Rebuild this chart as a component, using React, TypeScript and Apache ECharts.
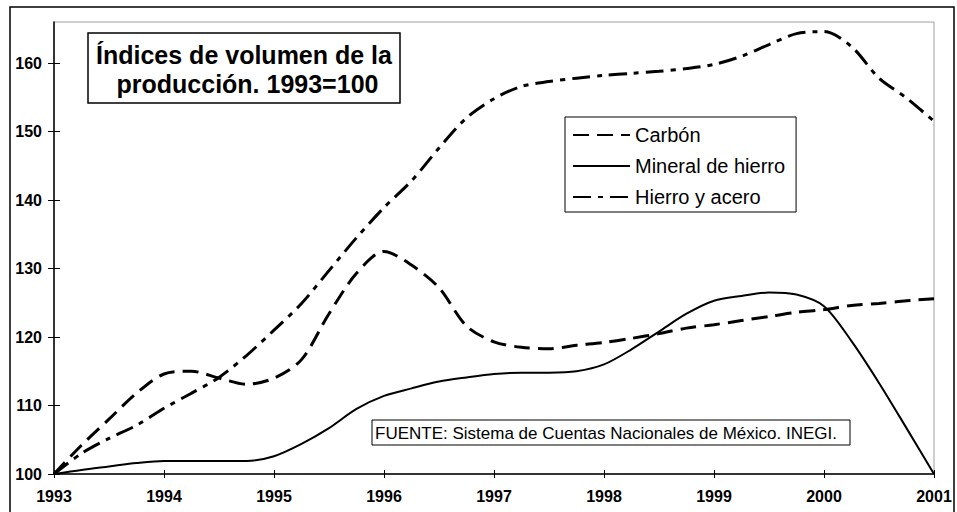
import React, { useEffect, useRef } from "react";
import * as echarts from "echarts";

const periods = [
  "1993-I", "1993-II", "1993-III", "1993-IV",
  "1994-I", "1994-II", "1994-III", "1994-IV",
  "1995-I", "1995-II", "1995-III", "1995-IV",
  "1996-I", "1996-II", "1996-III", "1996-IV",
  "1997-I", "1997-II", "1997-III", "1997-IV",
  "1998-I", "1998-II", "1998-III", "1998-IV",
  "1999-I", "1999-II", "1999-III", "1999-IV",
  "2000-I", "2000-II", "2000-III", "2000-IV",
  "2001-I",
];

const carbon = [
  100, 104.2, 108, 111.8, 114.6, 115, 114, 113.1,
  114, 116.7, 123.4, 129.3, 132.5, 130.5, 127.2, 121.6,
  119.3, 118.5, 118.3, 118.8, 119.2, 119.8, 120.5, 121.3,
  121.8, 122.4, 123, 123.6, 124, 124.6, 124.9, 125.3, 125.6,
];

const mineralHierro = [
  100, 100.6, 101.1, 101.6, 101.9, 101.9, 101.9, 101.9,
  102.6, 104.4, 106.7, 109.5, 111.4, 112.5, 113.5, 114.1,
  114.6, 114.8, 114.8, 115, 116, 118.2, 120.8, 123.4,
  125.3, 126, 126.5, 126.2, 124.5, 119.4, 113.3, 106.7, 100,
];

const hierroAcero = [
  100, 103, 105.2, 107.1, 109.6, 111.8, 114.1, 117.3,
  121, 124.9, 129.7, 134.5, 138.9, 142.8, 147.6, 152,
  154.8, 156.6, 157.3, 157.8, 158.2, 158.5, 158.8, 159.2,
  159.8, 161, 162.7, 164.3, 164.6, 162.4, 157.8, 154.9, 151.5,
];

const yTicks = [100, 110, 120, 130, 140, 150, 160];

const seriesNames = ["Carbón", "Mineral de hierro", "Hierro y acero"];
const titleLines = ["Índices de volumen de la", " producción. 1993=100"];
const sourceText = "FUENTE: Sistema de Cuentas Nacionales de México. INEGI.";

const FONT = "'Liberation Sans', Arial, Helvetica, sans-serif";

export default function App() {
  const ref = useRef<HTMLDivElement>(null);

  useEffect(() => {
    if (!ref.current) return;
    const chart = echarts.init(ref.current, null, { renderer: "svg" });
    const yearOnly = (index: number) => index % 4 === 0;

    chart.setOption({
      animation: false,
      backgroundColor: "#ffffff",
      grid: {
        left: 54,
        right: 23,
        top: 22,
        bottom: 38,
        show: true,
        borderColor: "#a0a0a0",
        borderWidth: 1,
        backgroundColor: "transparent",
      },
      legend: {
        orient: "vertical",
        left: 565,
        top: 117,
        padding: [8, 11, 5, 7],
        borderColor: "#000",
        borderWidth: 1,
        backgroundColor: "#fff",
        itemWidth: 57,
        itemHeight: 14,
        itemGap: 11,
        itemStyle: { opacity: 0 },
        textStyle: { fontSize: 20, fontFamily: FONT, color: "#000", lineHeight: 20 },
        data: seriesNames,
      },
      xAxis: [
        {
          type: "category",
          data: periods,
          boundaryGap: false,
          axisLine: { lineStyle: { color: "#000", width: 1.5 } },
          axisTick: { show: true, length: 4, interval: yearOnly, lineStyle: { color: "#000" } },
          axisLabel: {
            interval: yearOnly,
            formatter: (v: string) => v.split("-")[0],
            fontSize: 16,
            fontWeight: "bold",
            fontFamily: FONT,
            color: "#000",
            margin: 14,
          },
          splitLine: { show: false },
        },
        {
          type: "category",
          data: periods,
          boundaryGap: false,
          position: "bottom",
          axisLine: { show: false },
          axisTick: { show: true, inside: true, length: 4, interval: yearOnly, lineStyle: { color: "#000" } },
          axisLabel: { show: false },
          splitLine: { show: false },
        },
      ],
      yAxis: [
        {
          type: "value",
          min: 100,
          max: 166,
          interval: 10,
          axisLine: { show: true, lineStyle: { color: "#000", width: 1.5 } },
          axisTick: { show: true, length: 6, customValues: yTicks, lineStyle: { color: "#000" } },
          axisLabel: {
            customValues: yTicks,
            fontSize: 16,
            fontWeight: "bold",
            fontFamily: FONT,
            color: "#000",
            margin: 12,
          },
          splitLine: { show: false },
        },
        {
          type: "value",
          min: 100,
          max: 166,
          interval: 10,
          position: "left",
          axisLine: { show: false },
          axisTick: { show: true, inside: true, length: 6, customValues: yTicks, lineStyle: { color: "#000" } },
          axisLabel: { show: false },
          splitLine: { show: false },
        },
      ],
      series: [
        {
          name: seriesNames[0],
          type: "line",
          data: carbon,
          smooth: 0.3,
          symbol: "none",
          lineStyle: { color: "#000", width: 3, type: [16, 8] },
          itemStyle: { color: "#000" },
          z: 3,
        },
        {
          name: seriesNames[1],
          type: "line",
          data: mineralHierro,
          smooth: 0.3,
          symbol: "none",
          lineStyle: { color: "#000", width: 2, type: "solid" },
          itemStyle: { color: "#000" },
          z: 3,
        },
        {
          name: seriesNames[2],
          type: "line",
          data: hierroAcero,
          smooth: 0.3,
          symbol: "none",
          lineStyle: { color: "#000", width: 3, type: [18, 7, 5, 7] },
          itemStyle: { color: "#000" },
          z: 3,
        },
      ],
      graphic: [
        {
          type: "rect",
          shape: { x: 10, y: 7, width: 944, height: 520 },
          style: { fill: "none", stroke: "#000", lineWidth: 1.5 },
          silent: true,
          z: 0,
        },
        {
          type: "rect",
          shape: { x: 88, y: 33, width: 312, height: 70 },
          style: { fill: "#fff", stroke: "#000", lineWidth: 1.5 },
          z: 10,
        },
        {
          type: "text",
          x: 244,
          y: 69,
          style: {
            text: titleLines.join("\n"),
            fontSize: 25,
            fontWeight: "bold",
            fontFamily: FONT,
            fill: "#000",
            align: "center",
            verticalAlign: "middle",
            lineHeight: 29,
          },
          z: 11,
        },
        {
          type: "rect",
          shape: { x: 372, y: 420, width: 478, height: 25 },
          style: { fill: "#fff", stroke: "#000", lineWidth: 1 },
          z: 10,
        },
        {
          type: "text",
          x: 375,
          y: 433,
          style: {
            text: sourceText,
            fontSize: 17,
            fontFamily: FONT,
            fill: "#000",
            align: "left",
            verticalAlign: "middle",
          },
          z: 11,
        },
      ],
    });

    return () => chart.dispose();
  }, []);

  return (
    <div
      ref={ref}
      style={{ position: "fixed", left: 0, top: 0, width: 957, height: 512 }}
    />
  );
}
